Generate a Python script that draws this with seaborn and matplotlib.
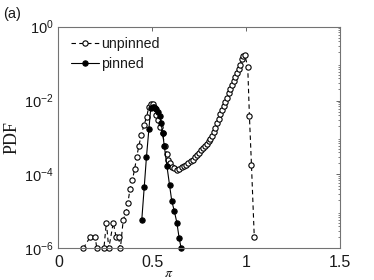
import numpy as np
import pandas as pd
import seaborn as sns
import matplotlib.pyplot as plt
from matplotlib.ticker import LogLocator, NullFormatter

# unpinned PDF (open circles, dashed)
pi_unpinned = [0.133, 0.169, 0.197, 0.205, 0.243, 0.256, 0.269, 0.293, 0.308, 0.321,
               0.331, 0.346, 0.361, 0.371, 0.382, 0.395, 0.407, 0.418, 0.429, 0.443,
               0.457, 0.471, 0.482, 0.493, 0.504, 0.512, 0.523, 0.534, 0.544, 0.556,
               0.567, 0.578, 0.587, 0.596, 0.606, 0.617, 0.631, 0.645, 0.658, 0.670,
               0.682, 0.694, 0.706, 0.718, 0.729, 0.740, 0.751, 0.762, 0.772, 0.783,
               0.792, 0.801, 0.810, 0.819, 0.828, 0.837, 0.846, 0.855, 0.864, 0.873,
               0.881, 0.890, 0.899, 0.908, 0.917, 0.926, 0.935, 0.944, 0.953, 0.962,
               0.971, 0.977, 0.985, 0.994, 1.010, 1.019, 1.030, 1.045]
pdf_unpinned = [1.0e-6, 2.0e-6, 2.0e-6, 1.0e-6, 1.0e-6, 5.0e-6, 1.0e-6, 5.0e-6, 2.0e-6, 2.0e-6,
                1.0e-6, 5.9e-6, 9.5e-6, 1.7e-5, 4.0e-5, 7.1e-5, 1.4e-4, 3.0e-4, 5.8e-4, 1.2e-3,
                2.2e-3, 3.6e-3, 6.6e-3, 7.9e-3, 7.9e-3, 6.8e-3, 4.1e-3, 3.0e-3, 1.9e-3, 1.3e-3,
                6.0e-4, 3.5e-4, 2.5e-4, 2.0e-4, 1.6e-4, 1.45e-4, 1.35e-4, 1.38e-4, 1.55e-4, 1.66e-4,
                1.8e-4, 2.0e-4, 2.3e-4, 2.5e-4, 2.9e-4, 3.3e-4, 3.8e-4, 4.5e-4, 5.1e-4, 5.8e-4,
                6.6e-4, 7.8e-4, 9.3e-4, 1.1e-3, 1.4e-3, 1.8e-3, 2.5e-3, 3.2e-3, 4.2e-3, 5.4e-3,
                6.9e-3, 9.3e-3, 1.2e-2, 1.6e-2, 2.0e-2, 2.6e-2, 3.3e-2, 4.3e-2, 5.5e-2, 7.1e-2,
                9.3e-2, 0.13, 0.16, 0.17, 8.3e-2, 3.9e-3, 1.8e-4, 2.0e-6]

# pinned PDF (filled circles, solid)
pi_pinned = [0.445, 0.458, 0.470, 0.483, 0.493, 0.504, 0.513, 0.522, 0.531, 0.540,
             0.548, 0.556, 0.565, 0.579, 0.593, 0.605, 0.618, 0.632, 0.644, 0.655]
pdf_pinned = [5.9e-6, 4.5e-5, 3.0e-4, 1.7e-3, 6.3e-3, 6.6e-3, 6.3e-3, 5.8e-3, 5.0e-3, 3.8e-3,
              2.4e-3, 1.35e-3, 5.9e-4, 1.7e-4, 5.2e-5, 1.9e-5, 1.05e-5, 5.0e-6, 1.95e-6, 1.0e-6]

sns.set_style('white')
plt.rcParams['font.family'] = ['Liberation Sans', 'DejaVu Sans']

fig = plt.figure(figsize=(3.74, 2.80), dpi=100)
ax = fig.add_axes([0.156, 0.113, 0.752, 0.792])

df_u = pd.DataFrame({'pi': pi_unpinned, 'pdf': pdf_unpinned})
df_p = pd.DataFrame({'pi': pi_pinned, 'pdf': pdf_pinned})

sns.lineplot(data=df_u, x='pi', y='pdf', ax=ax, sort=False, estimator=None,
             color='black', linestyle=(0, (4, 3)), linewidth=0.8, marker='o',
             markersize=3.8, markerfacecolor='white', markeredgecolor='black',
             markeredgewidth=0.8, clip_on=False, label='unpinned')
sns.lineplot(data=df_p, x='pi', y='pdf', ax=ax, sort=False, estimator=None,
             color='black', linestyle='-', linewidth=0.8, marker='o',
             markersize=3.8, markerfacecolor='black', markeredgecolor='black',
             markeredgewidth=0.8, clip_on=False, label='pinned')

ax.set_yscale('log')
ax.set_xlim(0, 1.5)
ax.set_ylim(1e-6, 1)
ax.set_xticks([0, 0.5, 1, 1.5])
ax.set_xticklabels(['0', '0.5', '1', '1.5'])
ax.set_yticks([1e-6, 1e-4, 1e-2, 1])
ax.yaxis.set_minor_locator(LogLocator(base=10, subs=np.arange(2, 10), numticks=20))
ax.yaxis.set_minor_formatter(NullFormatter())

for s in ax.spines.values():
    s.set_color('0.45')
    s.set_linewidth(0.8)
ax.tick_params(which='both', direction='in', top=True, right=True, color='0.3',
               labelcolor='0.1', labelsize=10.5)
ax.tick_params(which='major', length=3, width=0.6)
ax.tick_params(which='minor', length=1.8, width=0.5)
ax.tick_params(axis='x', pad=5, labelsize=11.5)

ax.set_xlabel(r'$\pi$', fontsize=10, math_fontfamily='stix', color='0.1')
ax.xaxis.label.set_verticalalignment('center')
ax.xaxis.set_label_coords(0.392, -0.113)
ax.set_ylabel('PDF', fontsize=13, family='Liberation Serif', labelpad=2, color='0.1')

leg = ax.legend(loc='upper left', frameon=False, fontsize=10.2, handlelength=2.0,
                handletextpad=0.12, borderpad=0, borderaxespad=0,
                bbox_to_anchor=(0.045, 0.952), labelspacing=0.4)
for t in leg.get_texts():
    t.set_color('0.1')

fig.text(0.008, 0.935, '(a)', fontsize=10.5, color='0.1')

fig.savefig('out.png', dpi=100)
